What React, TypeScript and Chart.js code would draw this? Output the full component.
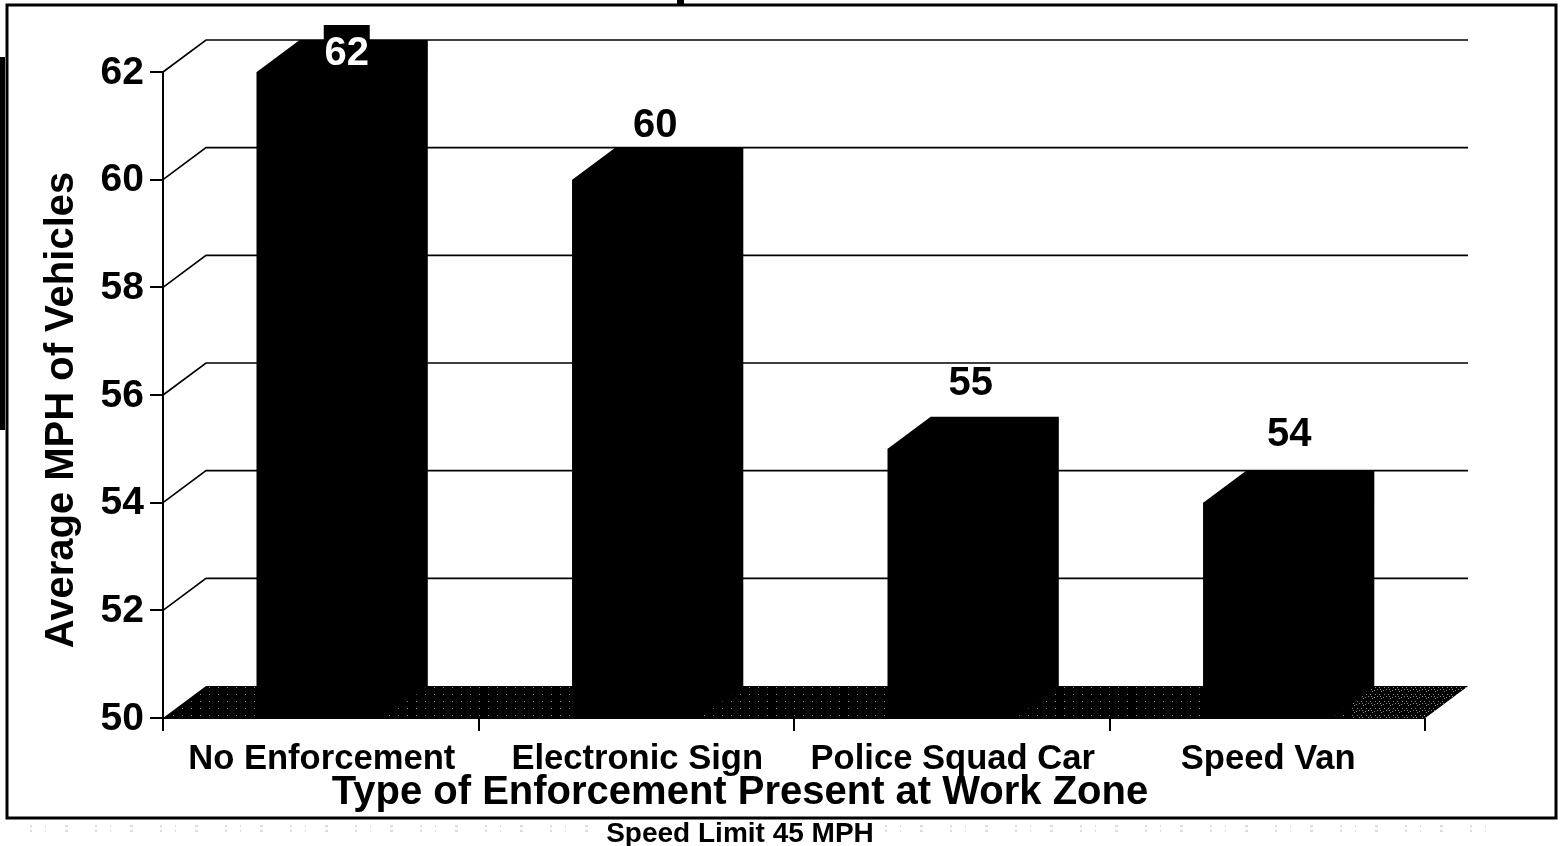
import React, { useEffect, useRef } from "react";
import { Chart, registerables } from "chart.js";

Chart.register(...registerables);

const categories = ["No Enforcement", "Electronic Sign", "Police Squad Car", "Speed Van"];
const values = [62, 60, 55, 54];
const dataLabels = ["62", "60", "55", "54"];
const xAxisTitle = "Type of Enforcement Present at Work Zone";
const yAxisTitle = "Average MPH of Vehicles";
const footnote = "Speed Limit 45 MPH";

const FONT = '"Liberation Sans", Arial, sans-serif';
const DX = 43;
const DY = 32;
const LABEL_LIFT = [18, 54, 65, 68];
const LABEL_SHIFT = [26, 19, 19, 22];

function speckle(ctx: CanvasRenderingContext2D, dense: boolean) {
  const t = document.createElement("canvas");
  t.width = 9;
  t.height = 7;
  const c = t.getContext("2d")!;
  c.fillStyle = "#000";
  c.fillRect(0, 0, 9, 7);
  c.fillStyle = "#8a8a8a";
  c.fillRect(2, 1, 1, 1);
  if (dense) {
    c.fillRect(6, 4, 1, 1);
    c.fillRect(0, 3, 1, 1);
    c.fillRect(4, 5, 1, 1);
    c.fillRect(7, 1, 1, 1);
    c.fillRect(3, 3, 1, 1);
  }
  return ctx.createPattern(t, "repeat")!;
}

const depthPlugin = {
  id: "depth3d",
  beforeDatasetsDraw(chart: any) {
    const { ctx, chartArea, scales } = chart;
    const { left, right } = chartArea;
    const y = scales.y;
    ctx.save();
    ctx.strokeStyle = "#000";
    ctx.lineWidth = 1.6;
    y.ticks.forEach((t: any) => {
      const p = y.getPixelForValue(t.value);
      if (t.value === y.min) return;
      ctx.beginPath();
      ctx.moveTo(left, p);
      ctx.lineTo(left + DX, p - DY);
      ctx.lineTo(right + DX, p - DY);
      ctx.stroke();
    });
    const b = y.getPixelForValue(y.min);
    const floor = () => {
      ctx.beginPath();
      ctx.moveTo(left, b);
      ctx.lineTo(left + DX, b - DY);
      ctx.lineTo(right + DX, b - DY);
      ctx.lineTo(right, b);
      ctx.closePath();
    };
    floor();
    ctx.fillStyle = speckle(ctx, false);
    ctx.fill();
    ctx.save();
    floor();
    ctx.clip();
    ctx.fillStyle = speckle(ctx, true);
    const last = chart.getDatasetMeta(0).data.at(-1);
    ctx.fillRect(last.x + last.width / 2 + DX / 2, b - DY, right - last.x, DY);
    ctx.restore();

    // Depth faces of each bar
    ctx.fillStyle = "#000";
    chart.getDatasetMeta(0).data.forEach((bar: any) => {
      const l = bar.x - bar.width / 2;
      const r = bar.x + bar.width / 2;
      ctx.beginPath();
      ctx.moveTo(l, bar.y);
      ctx.lineTo(l + DX, bar.y - DY);
      ctx.lineTo(r + DX, bar.y - DY);
      ctx.lineTo(r + DX, b - DY);
      ctx.lineTo(r, b);
      ctx.lineTo(l, b);
      ctx.closePath();
      ctx.fill();
    });
    ctx.restore();
  },
  afterDraw(chart: any) {
    const { ctx } = chart;
    ctx.save();
    ctx.fillStyle = "#000";
    ctx.textAlign = "center";
    ctx.textBaseline = "middle";

    chart.getDatasetMeta(0).data.forEach((bar: any, i: number) => {
      ctx.font = `bold 40px ${FONT}`;
      const x = bar.x + LABEL_SHIFT[i];
      const y = bar.y - LABEL_LIFT[i];
      if (i === 0) {
        ctx.fillRect(x - 23, 25, 46, 45);
        ctx.fillStyle = "#fff";
        ctx.fillText(dataLabels[i], x, y);
        ctx.fillStyle = "#000";
      } else {
        ctx.fillText(dataLabels[i], x, y);
      }
    });

    ctx.font = `bold 40px ${FONT}`;
    ctx.fillText(xAxisTitle, 740, 793);
    ctx.font = `bold 28px ${FONT}`;
    ctx.fillText(footnote, 740, 834);
    ctx.save();
    ctx.translate(62, 410);
    ctx.rotate(-Math.PI / 2);
    ctx.font = `bold 40px ${FONT}`;
    ctx.fillText(yAxisTitle, 0, 0);
    ctx.restore();

    // Scanned page frame and edge remnants
    ctx.strokeStyle = "#000";
    ctx.lineWidth = 3;
    ctx.strokeRect(7, 5, 1549, 813);
    ctx.fillRect(0, 57, 5, 373);
    ctx.fillRect(677, 0, 7, 5);

    // Faint scan noise under the frame
    ctx.strokeStyle = "#dcdcdc";
    ctx.lineWidth = 2;
    ctx.setLineDash([2, 13, 1, 19, 3, 27]);
    [826, 831].forEach((ly) => {
      ctx.beginPath();
      ctx.moveTo(30, ly);
      ctx.lineTo(595, ly);
      ctx.moveTo(885, ly);
      ctx.lineTo(1500, ly);
      ctx.stroke();
    });
    ctx.restore();
  },
};

export default function App() {
  const ref = useRef<HTMLCanvasElement>(null);
  useEffect(() => {
    document.body.style.margin = "0";
    document.body.style.background = "#fff";
    const chart = new Chart(ref.current!, {
      type: "bar",
      data: {
        labels: categories,
        datasets: [
          {
            data: values,
            backgroundColor: "#000",
            barPercentage: 0.406,
            categoryPercentage: 1,
          },
        ],
      },
      plugins: [depthPlugin],
      options: {
        animation: false,
        responsive: false,
        devicePixelRatio: 1,
        layout: { padding: { left: 80, right: 135, top: 72, bottom: 0 } },
        plugins: { legend: { display: false }, tooltip: { enabled: false } },
        scales: {
          x: {
            offset: true,
            afterFit: (s: any) => {
              s.height = 128;
            },
            border: { display: true, color: "#000", width: 2 },
            grid: {
              drawOnChartArea: false,
              drawTicks: true,
              tickLength: 13,
              color: "#000",
              lineWidth: 2,
              offset: true,
            },
            ticks: {
              color: "#000",
              padding: 8,
              labelOffset: 1,
              maxRotation: 0,
              font: { family: FONT, size: 34.6, weight: "bold" },
            },
          },
          y: {
            min: 50,
            max: 62,
            afterFit: (s: any) => {
              s.width = 83;
            },
            border: { display: true, color: "#000", width: 2 },
            grid: {
              drawOnChartArea: false,
              drawTicks: true,
              tickLength: 13,
              color: "#000",
              lineWidth: 2,
            },
            ticks: {
              stepSize: 2,
              color: "#000",
              padding: 6,
              labelOffset: 1,
              font: { family: FONT, size: 39, weight: "bold" },
            },
          },
        },
      },
    } as any);
    return () => chart.destroy();
  }, []);
  return <canvas ref={ref} width={1560} height={846} style={{ display: "block" }} />;
}
